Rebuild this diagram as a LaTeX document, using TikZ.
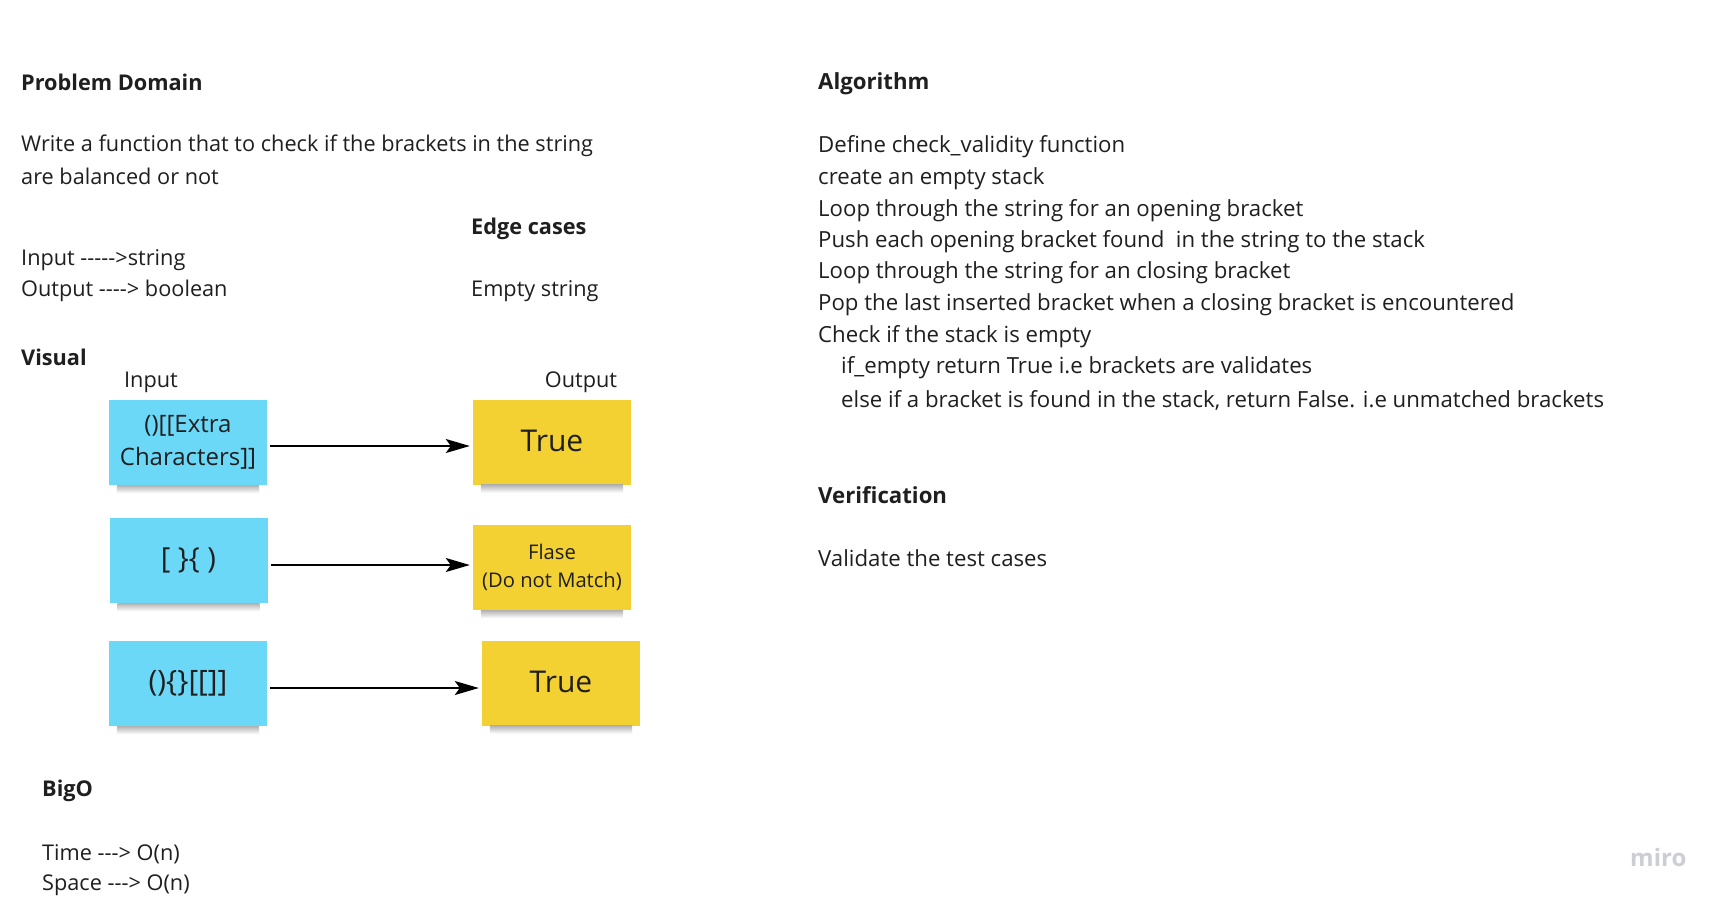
\documentclass[tikz,border=0pt]{standalone}
\usepackage{fontspec}
\newfontfamily\osans{Open Sans}
\usetikzlibrary{arrows.meta}
\definecolor{stickyblue}{HTML}{6CD8F8}
\definecolor{stickyyellow}{HTML}{F4D133}
\definecolor{ink}{HTML}{1F1F1F}
\definecolor{mirogray}{HTML}{CDCDD6}
\begin{document}
\begin{tikzpicture}[x=1pt,y=-1pt,
  txt/.style={anchor=west,inner sep=0pt,text=ink,font=\osans\fontsize{21.7}{26}\selectfont},
  head/.style={anchor=west,inner sep=0pt,text=ink,font=\osans\fontsize{21.7}{26}\selectfont\bfseries},
  rtxt/.style={anchor=west,inner sep=0pt,text=ink,font=\osans\fontsize{22.2}{26}\selectfont},
  rhead/.style={anchor=west,inner sep=0pt,text=ink,font=\osans\fontsize{22.2}{26}\selectfont\bfseries},
  note/.style={minimum width=158pt,minimum height=85pt,inner sep=0pt,align=center,text=ink},
  bluenote/.style={note,fill=stickyblue},
  yellownote/.style={note,fill=stickyyellow},
  link/.style={draw=black,line width=1.8pt,-{Stealth[length=24pt,width=14pt,inset=5pt]}},
  shadowband/.style={top color=black!30,bottom color=white}
]
\useasboundingbox (0,0) rectangle (1723,906);
\fill[white] (0,0) rectangle (1723,906);

% Problem domain
\node[head] (pd) at (21,82) {Problem Domain};
\node[txt] (w1) at (21,146) {Write a function that to check if the brackets in the string};
\node[txt] (w2) at (21,176) {are balanced or not};
\node[head] (ec) at (471,229) {Edge cases};
\node[txt] (io1) at (21,260) {Input ----->string};
\node[txt] (io2) at (21,291) {Output ----> boolean};
\node[txt] (es) at (471,291) {Empty string};
\node[head] (vis) at (21,357) {Visual};
\node[txt,anchor=center] (inl) at (151,382) {Input};
\node[txt,anchor=center] (outl) at (581,382) {Output};

% notes
\node[bluenote,font=\osans\fontsize{24}{33}\selectfont] (b1) at (188,442.5) {()[[Extra\\Characters]]};
\node[bluenote,font=\osans\fontsize{29}{32}\selectfont] (b2) at (188.5,560.5) {[ \}\{ )};
\node[bluenote,font=\osans\fontsize{29.5}{32}\selectfont] (b3) at (188,683.5) {()\{\}[[]]};
\node[yellownote,font=\osans\fontsize{30}{36}\selectfont] (y1) at (552,442) {\raisebox{2pt}{True}};
\node[yellownote,font=\osans\fontsize{20.2}{27.5}\selectfont] (y2) at (552,567.5) {Flase\\(Do not Match)};
\node[yellownote,font=\osans\fontsize{30}{36}\selectfont] (y3) at (561,683) {\raisebox{2pt}{True}};

\foreach \n in {b1,b2,b3,y1,y2,y3}{
  \shade[shadowband] ([xshift=8pt]\n.south west) rectangle ([xshift=-8pt,yshift=-8pt]\n.south east);
}

\draw[link] ([xshift=3pt,yshift=-3.5pt]b1.east) -- ([xshift=-3pt,yshift=-3.5pt]b1.east -| y1.west);
\draw[link] ([xshift=3pt,yshift=-4.5pt]b2.east) -- ([xshift=-3pt,yshift=-4.5pt]b2.east -| y2.west);
\draw[link] ([xshift=3pt,yshift=-4.5pt]b3.east) -- ([xshift=-3pt,yshift=-4.5pt]b3.east -| y3.west);

% BigO
\node[head] (bo) at (42,791) {BigO};
\node[txt] (t1) at (42,854) {Time ---> O(n)};
\node[txt] (t2) at (42,885) {Space ---> O(n)};

% Algorithm
\node[rhead] (alg) at (818,84) {Algorithm};
\node[rtxt] (a1) at (818,147) {Define check\_validity function};
\node[rtxt] (a2) at (818,179) {create an empty stack};
\node[rtxt] (a3) at (818,211) {Loop through the string for an opening bracket};
\node[rtxt] (a4) at (818,242) {Push each opening bracket found\ \ in the string to the stack};
\node[rtxt] (a5) at (818,273) {Loop through the string for an closing bracket};
\node[rtxt] (a6) at (818,305) {Pop the last inserted bracket when a closing bracket is encountered};
\node[rtxt] (a7) at (818,337) {Check if the stack is empty};
\node[rtxt] (a8) at (841,368) {if\_empty return True i.e brackets are validates};
\node[rtxt] (a9) at (841,400) {else if a bracket is found in the stack, return False. i.e unmatched brackets};

\node[rhead] (ver) at (818,495) {Verification};
\node[rtxt] (vt) at (818,558) {Validate the test cases};

\node[anchor=west,inner sep=0pt,text=mirogray,font=\osans\fontsize{24}{28}\selectfont\bfseries] (miro) at (1630,857) {miro};
\end{tikzpicture}
\end{document}
